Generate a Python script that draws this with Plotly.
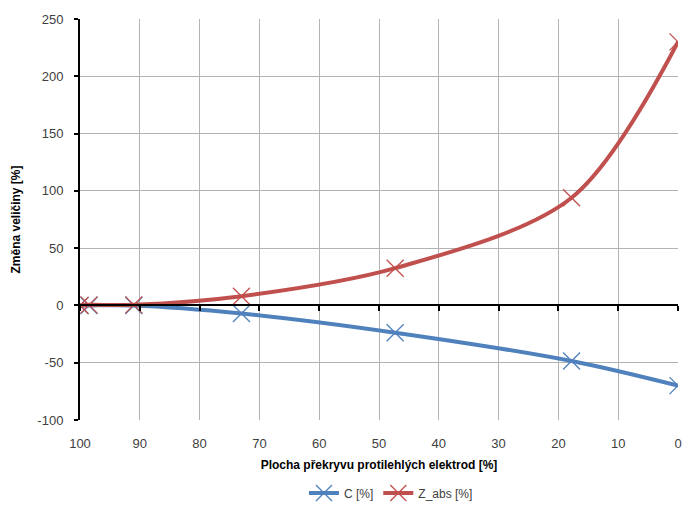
import plotly.graph_objects as go

# Overlap of opposing electrodes [%] and relative change of each quantity [%]
overlap = [100, 98.5, 91, 73, 47.3, 17.8, 0]
c_change = [0, 0, 0, -7, -23.8, -48.5, -70]
z_abs_change = [0, 0.5, 0.5, 8, 32.5, 94, 230]

x_ticks = [100, 90, 80, 70, 60, 50, 40, 30, 20, 10, 0]
y_ticks = [-100, -50, 0, 50, 100, 150, 200, 250]
y_tick_text = [str(v) for v in y_ticks]  # plain hyphen minus signs

BLUE = "#4F81BD"
RED = "#C0504D"
FONT = "Liberation Sans, Arial, sans-serif"

fig = go.Figure()

fig.add_trace(go.Scatter(
    x=overlap, y=c_change, name="C [%]",
    mode="lines+markers",
    line=dict(color=BLUE, width=4, shape="spline", smoothing=0.9),
    marker=dict(symbol="x-thin-open", size=17,
                line=dict(color="rgba(79,129,189,0.5)", width=1.3)),
))
fig.add_trace(go.Scatter(
    x=overlap, y=z_abs_change, name="Z_abs [%]",
    mode="lines+markers",
    line=dict(color=RED, width=4, shape="spline", smoothing=0.9),
    marker=dict(symbol="x-thin-open", size=17,
                line=dict(color="rgba(192,80,77,0.5)", width=1.3)),
))

y_lo, y_hi = -100, 250
zero_frac = (0 - y_lo) / (y_hi - y_lo)

fig.update_layout(
    width=683, height=506,
    margin=dict(l=80, r=5, t=19, b=86, autoexpand=False),
    paper_bgcolor="white", plot_bgcolor="white",
    font=dict(family=FONT, size=13, color="#404040"),
    showlegend=True,
    legend=dict(orientation="h", x=0.52, y=-0.182, xanchor="center", yanchor="middle",
                font=dict(size=12, color="#404040")),
    xaxis=dict(
        range=[100, 0], tickvals=x_ticks, ticks="", ticklabelstandoff=14,
        showgrid=True, gridcolor="#B3B3B3", gridwidth=1,
        showline=False, zeroline=False,
        tickfont=dict(size=13, color="#404040"),
        title=dict(text="<b>Plocha překryvu protilehlých elektrod [%]</b>",
                   font=dict(size=12, color="#000000"), standoff=10),
    ),
    xaxis2=dict(
        range=[100, 0], overlaying="x", anchor="free", position=zero_frac,
        side="bottom", tickvals=x_ticks, ticks="outside", ticklen=5,
        tickwidth=2, tickcolor="black", showticklabels=False,
        showline=True, linecolor="black", linewidth=2, showgrid=False,
        zeroline=False,
    ),
    yaxis=dict(
        range=[y_lo, y_hi], tickvals=y_ticks, ticktext=y_tick_text,
        ticks="outside", ticklen=4,
        tickwidth=2, tickcolor="black", ticklabelstandoff=8,
        showgrid=True, gridcolor="#B3B3B3", gridwidth=1,
        showline=True, linecolor="black", linewidth=2, zeroline=False,
        tickfont=dict(size=13, color="#404040"),
        title=dict(text="<b>Změna veličiny [%]</b>",
                   font=dict(size=12, color="#000000"), standoff=14),
    ),
)

# invisible trace so the zero-line axis is drawn
fig.add_trace(go.Scatter(x=[100, 0], y=[0, 0], xaxis="x2", mode="lines",
                         line=dict(width=0), showlegend=False, hoverinfo="skip"))

fig.write_html("out.html")
